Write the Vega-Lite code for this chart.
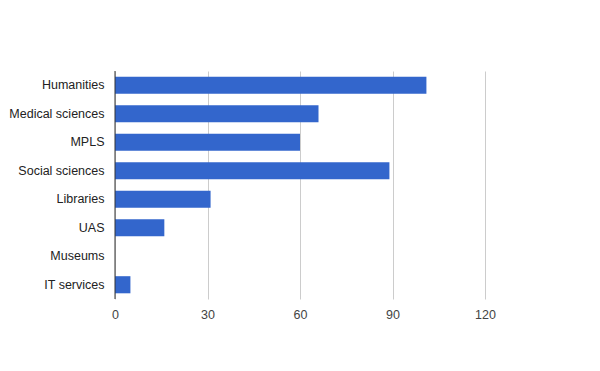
{
  "$schema": "https://vega.github.io/schema/vega-lite/v6.json",
  "autosize": "none",
  "padding": {"left": 115, "top": 71, "right": 115, "bottom": 72},
  "width": 370,
  "height": 228,
  "background": "white",
  "config": {"view": {"stroke": null}, "font": "Liberation Sans"},
  "data": {"values": [
    {"dept": "Humanities", "value": 101},
    {"dept": "Medical sciences", "value": 66},
    {"dept": "MPLS", "value": 60},
    {"dept": "Social sciences", "value": 89},
    {"dept": "Libraries", "value": 31},
    {"dept": "UAS", "value": 16},
    {"dept": "Museums", "value": 0},
    {"dept": "IT services", "value": 5}
  ]},
  "layer": [
    {
      "mark": {"type": "bar", "color": "#3366cc"},
      "encoding": {
        "y": {"field": "dept", "type": "nominal", "sort": null,
              "scale": {"paddingInner": 0.4, "paddingOuter": 0.2},
              "axis": {"title": null, "domain": false, "ticks": false, "labelPadding": 11,
                       "labelFontSize": 12.5, "labelColor": "#222222", "labelFont": "Liberation Sans"}},
        "x": {"field": "value", "type": "quantitative",
              "scale": {"domain": [0, 120], "nice": false},
              "axis": {"title": null, "values": [0, 30, 60, 90, 120], "domain": false, "ticks": false,
                       "labelFlush": false, "labelOverlap": false,
                       "gridColor": "#cccccc", "gridOpacity": 1, "labelPadding": 9,
                       "labelFontSize": 12.5, "labelColor": "#444444", "labelFont": "Liberation Sans"}}
      }
    },
    {
      "mark": {"type": "rule", "color": "#333333", "strokeWidth": 1},
      "data": {"values": [{"v": 0}]},
      "encoding": {"x": {"field": "v", "type": "quantitative"}}
    }
  ]
}
